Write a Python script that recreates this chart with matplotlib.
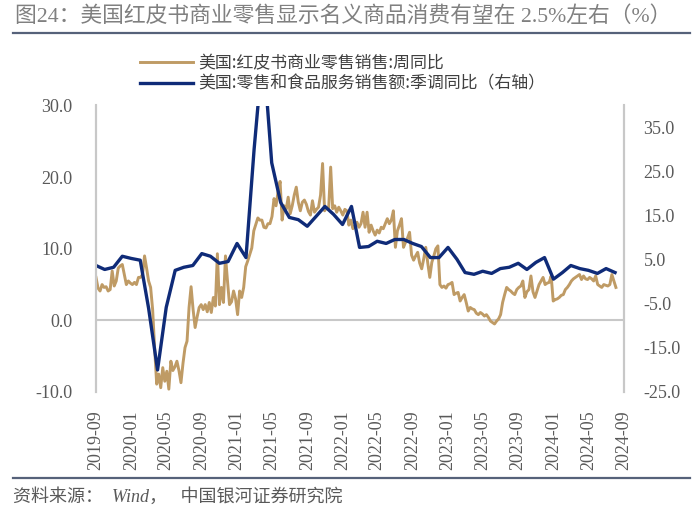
import numpy as np
import pandas as pd
import matplotlib
matplotlib.use("Agg")
import matplotlib.pyplot as plt
from matplotlib.lines import Line2D

plt.rcParams['font.family'] = ['Liberation Serif', 'Noto Sans CJK SC', 'DejaVu Sans']
plt.rcParams['axes.unicode_minus'] = False

# 红皮书商业零售销售:周同比 (weekly, from 2019-09)
redbook = [
    6.0, 4.5, 4.1, 5.0, 4.6, 4.7, 4.1, 4.3, 6.9, 4.8,
    5.5, 7.3, 7.6, 7.8, 6.4, 5.0, 5.5, 5.2, 5.0, 5.3,
    5.0, 6.0, 6.0, 6.4, 9.0, 7.3, 5.5, 4.6, 1.5, -4.0,
    -8.9, -7.5, -9.4, -6.6, -8.5, -7.1, -9.6, -5.7, -7.0, -6.5,
    -5.7, -7.0, -8.7, -6.0, -3.8, -2.9, 1.8, 4.7, 1.5, -1.0,
    0.5, 1.8, 2.2, 1.5, 2.2, 1.2, 2.5, 1.1, 3.2, 2.0,
    9.3, 2.2, 4.6, 2.5, 9.0, 5.5, 2.2, 2.6, 4.1, 3.0,
    0.8, 4.1, 3.2, 4.6, 7.5, 8.3, 9.2, 10.1, 12.5, 13.4,
    14.3, 14.0, 14.0, 13.0, 12.9, 13.5, 13.5, 14.5, 17.0, 16.0,
    18.0, 19.4, 14.0, 16.0, 15.5, 17.2, 14.9, 16.0, 17.5, 18.6,
    16.5, 15.3, 16.5, 16.8, 16.2, 15.2, 14.7, 16.7, 15.1, 15.5,
    15.8, 17.5, 21.9, 15.3, 15.8, 15.6, 21.4, 15.6, 16.0, 15.1,
    15.8, 15.3, 14.7, 15.5, 15.3, 13.3, 14.0, 12.8, 13.2, 13.7,
    13.0, 13.5, 15.1, 13.0, 15.1, 12.3, 13.3, 12.5, 11.9, 12.6,
    12.2, 13.0, 12.8, 13.5, 14.2, 13.5, 14.0, 15.3, 10.2, 12.5,
    13.3, 14.2, 10.2, 10.9, 11.5, 12.3, 9.1, 8.4, 9.0, 9.5,
    8.0, 7.2, 8.6, 10.2, 8.0, 6.0, 8.1, 9.0, 10.0, 10.4,
    5.0, 4.6, 4.8, 4.5, 5.0, 5.1, 5.3, 3.6, 3.8, 3.9,
    2.7, 3.2, 3.6, 2.5, 1.3, 1.8, 1.6, 1.5, 1.0, 0.8,
    1.1, 0.9, 0.6, 0.8, 0.4, -0.1, -0.3, -0.5, -0.1, 0.2,
    0.8, 2.5, 3.6, 4.6, 4.3, 4.1, 3.8, 3.6, 4.3, 4.6,
    4.8, 5.5, 3.2, 4.0, 4.3, 6.2, 4.0, 3.2, 4.1, 5.0,
    5.5, 6.0, 5.0, 5.2, 5.3, 6.2, 2.7, 2.9, 3.0, 3.2,
    3.5, 3.6, 4.3, 4.6, 5.0, 5.5, 5.8, 6.0, 6.2, 6.4,
    5.7, 6.2, 5.8, 5.7, 6.0, 5.8, 5.5, 6.2, 5.0, 4.8,
    4.6, 5.0, 4.9, 4.8, 5.0, 6.4, 5.5, 4.6,
]
redbook_dates = pd.date_range('2019-09-01', periods=len(redbook), freq='7D')

# 零售和食品服务销售额:季调同比 (monthly, right axis)
retail = [
    3.7, 2.8, 3.3, 5.8,
    5.3, 4.9, -6.0, -20.0, -5.8, 2.6, 3.3, 3.7, 6.4, 5.8, 4.2, 4.6,
    8.7, 5.5, 30.0, 53.0, 27.0, 18.0, 14.6, 14.1, 12.6, 14.8, 17.1, 15.3,
    13.0, 17.1, 7.8, 8.0, 9.2, 8.7, 9.6, 9.6, 8.7, 8.0, 5.5, 5.5,
    7.8, 5.1, 2.1, 1.7, 2.4, 1.9, 3.0, 3.3, 4.2, 2.8, 4.4, 5.5,
    0.6, 2.1, 3.7, 3.0, 2.6, 1.9, 3.0, 2.1,
]
retail_dates = pd.date_range('2019-09-01', periods=len(retail), freq='MS')

labels = ['美国:红皮书商业零售销售:周同比', '美国:零售和食品服务销售额:季调同比（右轴）']
title = '图24：美国红皮书商业零售显示名义商品消费有望在 2.5%左右（%）'
source = '资料来源：  Wind，   中国银河证券研究院'

brown = '#BF9B65'
navy = '#0F2B78'
grid_gray = '#C8C8C8'
text_gray = '#595959'

fig = plt.figure(figsize=(7, 5.21), dpi=100)
ax = fig.add_axes([96/700, 1-392/521, (624-96)/700, (392-105.5)/521])
ax2 = ax.twinx()

l1, = ax.plot(redbook_dates, redbook, color=brown, lw=2.1)
l2, = ax2.plot(retail_dates, retail, color=navy, lw=2.4)
ax.axhline(0, color=grid_gray, lw=1.5, zorder=0)

ax.set_ylim(-10, 30)
ax.set_yticks(np.arange(-10, 31, 10))
ax2.set_ylim(-25, 40)
ax2.set_yticks(np.arange(-25, 36, 10))
ax.yaxis.set_major_formatter(matplotlib.ticker.FormatStrFormatter('%.1f'))
ax2.yaxis.set_major_formatter(matplotlib.ticker.FormatStrFormatter('%.1f'))

ax.set_xlim(pd.Timestamp('2019-09-01'), pd.Timestamp('2024-09-01'))
ticks = pd.date_range('2019-09-01', '2024-09-01', freq='4MS')
ax.set_xticks(ticks)
ax.set_xticklabels([t.strftime('%Y-%m') for t in ticks], rotation=90)

for a in (ax, ax2):
    for s in ('top', 'bottom'):
        a.spines[s].set_visible(False)
    a.spines['left'].set_color(grid_gray)
    a.spines['right'].set_color(grid_gray)
    a.spines['left'].set_linewidth(1.5)
    a.spines['right'].set_linewidth(1.5)
    a.tick_params(length=0, labelsize=13, colors=text_gray)
ax.tick_params(axis='y', pad=17)
ax2.tick_params(axis='y', pad=14)
ax.tick_params(axis='x', pad=13)

fig.text(15/700, 1-17/521, title, fontsize=15.7, color='#808080', va='center', ha='left')
fig.add_artist(Line2D([13/700, 690/700], [1-33/521]*2, color='#56627A', lw=1.6))
fig.add_artist(Line2D([13/700, 690/700], [1-478/521]*2, color='#56627A', lw=1.6))

fig.legend([l1, l2], labels, loc='upper left', bbox_to_anchor=(140/700, 1-54/521),
           frameon=False, handlelength=3.1, handletextpad=0.35,
           labelspacing=0.15, borderpad=0, borderaxespad=0,
           labelcolor='#404040', prop={'family': ['Noto Sans CJK SC', 'DejaVu Sans'], 'size': 12.2})

fig.text(13/700, 1-497/521, source, fontsize=13, color=text_gray, va='center', ha='left',
         style='italic')

fig.savefig('out.png', dpi=100)
